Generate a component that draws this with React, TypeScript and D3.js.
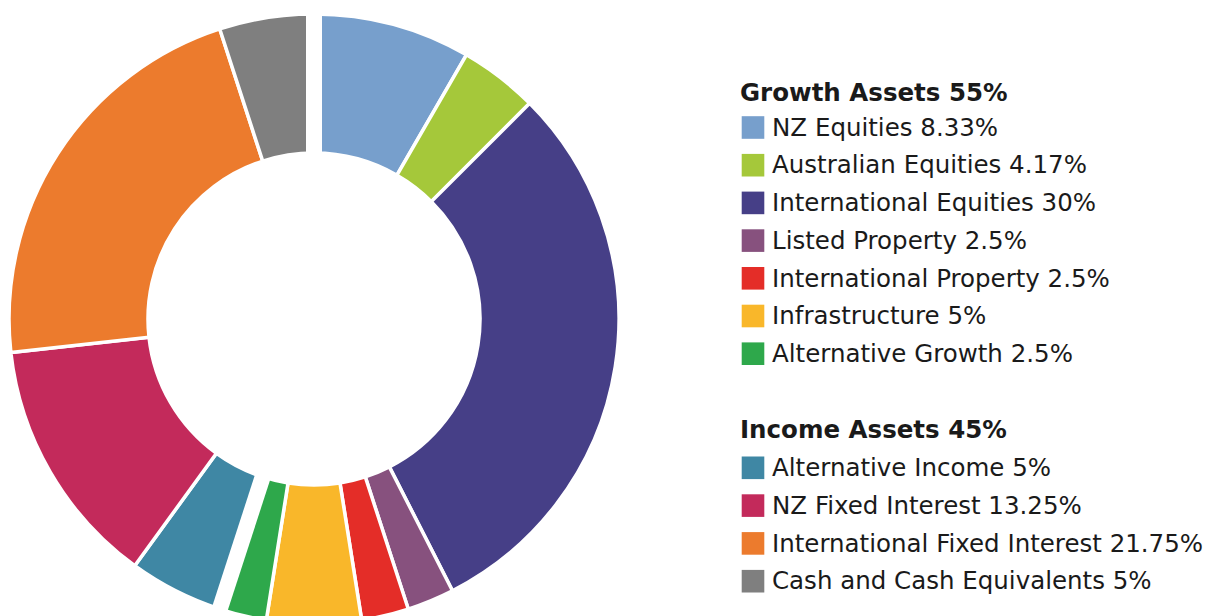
import React from "react";
import * as d3 from "d3";

const growthNames = [
  "NZ Equities",
  "Australian Equities",
  "International Equities",
  "Listed Property",
  "International Property",
  "Infrastructure",
  "Alternative Growth",
];
const growthValues = [8.33, 4.17, 30, 2.5, 2.5, 5, 2.5];
const growthColors = ["#779fcc", "#a5c83a", "#463f87", "#87517e", "#e42d28", "#f9b72a", "#2ea84b"];

const incomeNames = [
  "Alternative Income",
  "NZ Fixed Interest",
  "International Fixed Interest",
  "Cash and Cash Equivalents",
];
const incomeValues = [5, 13.25, 21.75, 5];
const incomeColors = ["#3f87a4", "#c32a5b", "#ec7b2d", "#7f7f7f"];

const groupTitles = ["Growth Assets 55%", "Income Assets 45%"];

type Slice = { name: string; value: number; color: string; group: number };

const slices: Slice[] = [
  ...growthNames.map((n, i) => ({ name: n, value: growthValues[i], color: growthColors[i], group: 0 })),
  ...incomeNames.map((n, i) => ({ name: n, value: incomeValues[i], color: incomeColors[i], group: 1 })),
];

export default function App() {
  const W = 1213;
  const H = 616;
  const cx = 314;
  const cy = 319;
  const R = 305;
  const r = 166;

  const pie = d3
    .pie<Slice>()
    .value((d) => d.value)
    .sort(null);
  const arcs = pie(slices);
  const arc = d3.arc<d3.PieArcDatum<Slice>>().innerRadius(r).outerRadius(R);

  // group boundary angles
  const boundaries: number[] = [];
  arcs.forEach((a, i) => {
    const prev = arcs[(i - 1 + arcs.length) % arcs.length];
    if (prev.data.group !== a.data.group) boundaries.push(a.startAngle);
  });

  const fs = 24.5;
  const legendX = 740;
  const swatch = 22.6;
  const groups = [
    { title: groupTitles[0], names: growthNames, values: growthValues, colors: growthColors, hy: 100.7, y1: 127.5, step: 37.7 },
    { title: groupTitles[1], names: incomeNames, values: incomeValues, colors: incomeColors, hy: 438.3, y1: 467.8, step: 37.8 },
  ];

  return (
    <svg
      width={W}
      height={H}
      style={{ position: "absolute", left: 0, top: 0, background: "#fff" }}
      fontFamily="'DejaVu Sans', Verdana, sans-serif"
    >
      <g transform={`translate(${cx},${cy})`}>
        {arcs.map((a, i) => (
          <path key={i} d={arc(a) || ""} fill={a.data.color} stroke="#fff" strokeWidth={3.5} />
        ))}
        {boundaries.map((ang, i) => (
          <line
            key={i}
            x1={0}
            y1={0}
            x2={Math.sin(ang) * (R + 10)}
            y2={-Math.cos(ang) * (R + 10)}
            stroke="#fff"
            strokeWidth={16}
          />
        ))}
      </g>
      {groups.map((g, gi) => (
        <g key={gi}>
          <text x={legendX} y={g.hy} fontSize={fs} fontWeight="bold" fill="#1a1a1a">
            {g.title}
          </text>
          {g.names.map((n, i) => {
            const yc = g.y1 + g.step * i;
            return (
              <g key={i}>
                <rect x={legendX + 1.7} y={yc - swatch / 2} width={swatch} height={swatch} fill={g.colors[i]} />
                <text x={legendX + 32} y={yc + 8.2} fontSize={fs} fill="#1a1a1a">
                  {`${n} ${g.values[i]}%`}
                </text>
              </g>
            );
          })}
        </g>
      ))}
    </svg>
  );
}
